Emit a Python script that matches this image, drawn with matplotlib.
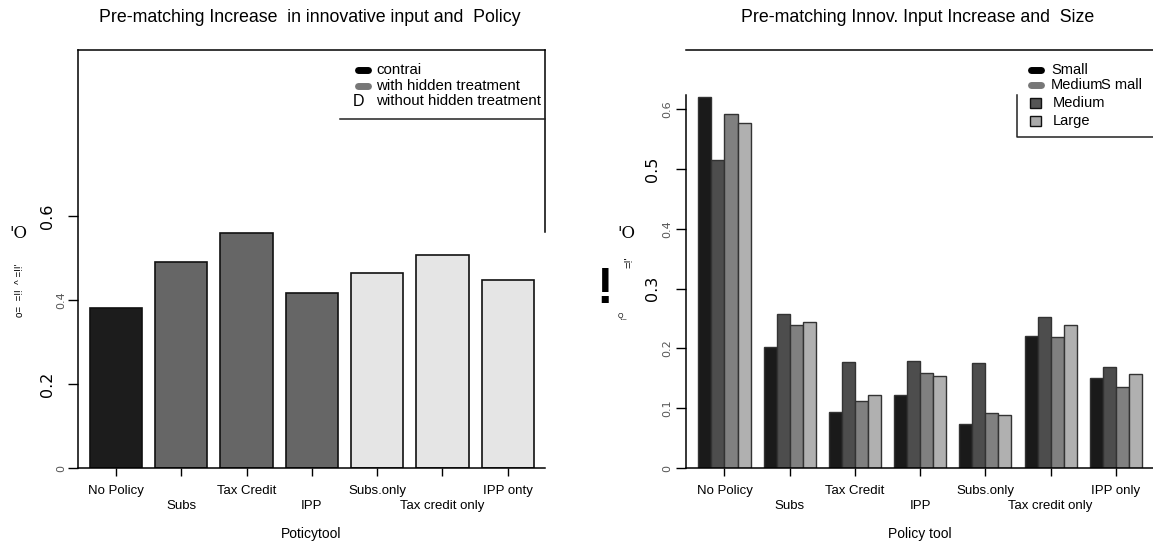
import matplotlib.pyplot as plt
import numpy as np
from matplotlib.lines import Line2D
from matplotlib.patches import Rectangle

# ----------------------------- Data ------------------------------------------

policy_left = ["No Policy", "Subs", "Tax Credit", "IPP", "Subs.only", "Tax credit only", "IPP onty"]
policy_right = ["No Policy", "Subs", "Tax Credit", "IPP", "Subs.only", "Tax credit only", "IPP only"]

# left panel: one bar per policy, shaded by treatment group
increase_by_policy = [0.381, 0.490, 0.560, 0.417, 0.464, 0.507, 0.448]
policy_group = ["control", "hidden", "hidden", "hidden", "plain", "plain", "plain"]
group_colors = {"control": "#1c1c1c", "hidden": "#666666", "plain": "#e5e5e5"}

# right panel: one bar per firm size inside each policy
small = [0.620, 0.202, 0.094, 0.122, 0.074, 0.221, 0.150]
medium_small = [0.515, 0.258, 0.177, 0.179, 0.175, 0.252, 0.169]
medium = [0.592, 0.239, 0.112, 0.159, 0.092, 0.219, 0.135]
large = [0.577, 0.244, 0.122, 0.154, 0.088, 0.239, 0.157]
size_colors = ["#1a1a1a", "#4d4d4d", "#808080", "#b0b0b0"]

left_yticks = [0, 0.2, 0.4, 0.6]
left_yticklabels = ["0", "0.2", "0.4", "0.6"]
left_ybold = [False, True, False, True]
right_yticks = [0, 0.1, 0.2, 0.3, 0.4, 0.5, 0.6]
right_yticklabels = ["0", "0.1", "0.2", "0.3", "0.4", "0.5", "0.6"]
right_ybold = [False, False, False, True, False, True, False]

# ----------------------------- Layout ----------------------------------------

W, H = 1153, 546
NARROW = ["Liberation Sans Narrow", "Liberation Sans", "DejaVu Sans"]
SANS = ["Liberation Sans", "DejaVu Sans"]


def fx(x):
    return x / W


def fy(y):
    return 1 - y / H


def style_axes(ax, labels, yticks, ylabels, ybold, big_pad, small_pad):
    x = np.arange(len(labels))
    ax.set_xlim(-0.59, 6.57)
    ax.set_xticks(x)
    ax.set_xticklabels(labels, fontfamily=NARROW, fontsize=9.5)
    ax.tick_params(axis="x", length=6, width=1, direction="out")
    for i, tick in enumerate(ax.xaxis.get_major_ticks()):
        tick.set_pad(6 if i % 2 == 0 else 17)
    ax.set_yticks(yticks)
    ax.set_yticklabels(ylabels)
    ax.tick_params(axis="y", length=7, width=1, direction="out")
    for tick, lab, bold in zip(ax.yaxis.get_major_ticks(), ax.get_yticklabels(), ybold):
        lab.set_rotation(90)
        lab.set_va("center")
        if bold:
            lab.set_fontsize(11.5)
            lab.set_color("black")
            tick.set_pad(big_pad)
        else:
            lab.set_fontsize(8)
            lab.set_color("#555555")
            tick.set_pad(small_pad)
    for sp in ax.spines.values():
        sp.set_linewidth(1.1)


fig = plt.figure(figsize=(W / 100, H / 100), dpi=100)

# ----------------------------- Left panel ------------------------------------

ax1 = fig.add_axes([fx(77.5), fy(468), fx(545) - fx(77.5), fy(50) - fy(468)])
ax1.bar(np.arange(len(policy_left)), increase_by_policy, width=0.8,
        color=[group_colors[g] for g in policy_group], edgecolor="#111111", linewidth=1.2)
ax1.set_ylim(0, 0.995)
style_axes(ax1, policy_left, left_yticks, left_yticklabels, left_ybold, 9, 1)
ax1.spines["right"].set_bounds(0.562, 0.995)
ax1.set_xlabel("Poticytool", fontfamily=NARROW, fontsize=10)
ax1.xaxis.set_label_coords(0.5, -0.142)

# ----------------------------- Right panel -----------------------------------

ax2 = fig.add_axes([fx(686), fy(468), fx(1153) - fx(686), fy(50) - fy(468)])
x = np.arange(len(policy_right))
for k, (vals, col) in enumerate(zip([small, medium_small, medium, large], size_colors)):
    ax2.bar(x + (k - 1.5) * 0.2, vals, width=0.2, color=col, edgecolor="#333333", linewidth=1.0)
ax2.set_ylim(0, 0.699)
style_axes(ax2, policy_right, right_yticks, right_yticklabels, right_ybold, 12, 3)
ax2.spines["left"].set_bounds(0, 0.624)
ax2.spines["right"].set_visible(False)
ax2.set_xlabel("Policy tool", fontfamily=NARROW, fontsize=10)
ax2.xaxis.set_label_coords(0.5, -0.142)

# ----------------------------- Titles ----------------------------------------

fig.text(fx(310), fy(18), "Pre-matching Increase  in innovative input and  Policy",
         ha="center", va="center", fontsize=12.8, fontfamily=SANS)
fig.text(fx(918), fy(18), "Pre-matching Innov. Input Increase and  Size",
         ha="center", va="center", fontsize=12.8, fontfamily=SANS)

# ----------------------------- Legends ---------------------------------------

# left legend
fig.add_artist(Line2D([fx(340), fx(545)], [fy(119), fy(119)], color="#222222", lw=1.1))
for yy, col in [(70, "#000000"), (86, "#777777")]:
    fig.add_artist(Line2D([fx(358), fx(368)], [fy(yy), fy(yy)], color=col, lw=5,
                          solid_capstyle="round"))
fig.text(fx(353), fy(101), "D", ha="left", va="center", fontsize=11.5, fontfamily=SANS)
for yy, txt in [(70, "contrai"), (86, "with hidden treatment"), (101, "without hidden treatment")]:
    fig.text(fx(376), fy(yy), txt, ha="left", va="center", fontsize=10.8, fontfamily=SANS)

# right legend
fig.add_artist(Line2D([fx(1017), fx(1017), fx(1153)], [fy(95), fy(137), fy(137)],
                      color="#222222", lw=1.1))
for yy, col in [(70, "#000000"), (85, "#777777")]:
    fig.add_artist(Line2D([fx(1031), fx(1041)], [fy(yy), fy(yy)], color=col, lw=5,
                          solid_capstyle="round"))
for yy, col in [(103, "#555555"), (121, "#aaaaaa")]:
    fig.add_artist(Rectangle((fx(1030), fy(yy + 5)), fx(11), fy(0) - fy(10),
                             facecolor=col, edgecolor="#111111", lw=1.0,
                             transform=fig.transFigure))
fig.text(fx(1051), fy(70), "Small", ha="left", va="center", fontsize=10.5, fontfamily=SANS)
fig.text(fx(1051), fy(85), "Medium", ha="left", va="center", fontsize=10.5, fontfamily=SANS)
fig.text(fx(1101), fy(85), "S mall", ha="left", va="center", fontsize=10.5, fontfamily=SANS)
fig.text(fx(1053), fy(103), "Medium", ha="left", va="center", fontsize=10.5, fontfamily=SANS)
fig.text(fx(1053), fy(121), "Large", ha="left", va="center", fontsize=10.5, fontfamily=SANS)

# ----------------------------- Y label remnants ------------------------------

fig.text(fx(18), fy(234), "'O", ha="center", va="center", fontsize=12, fontfamily="DejaVu Serif")
fig.text(fx(20), fy(290), "o=  =!!  ^ =!!'", ha="center", va="center", rotation=90,
         fontsize=7, fontfamily=SANS)
fig.text(fx(626), fy(234), "'O", ha="center", va="center", fontsize=12, fontfamily="DejaVu Serif")
fig.text(fx(605), fy(290), "!", ha="center", va="center", fontsize=36, fontweight="bold",
         fontfamily=SANS)
fig.text(fx(629), fy(262), "=!'", ha="center", va="center", rotation=90, fontsize=8,
         fontfamily=SANS)
fig.text(fx(622), fy(316), "Q_", ha="center", va="center", fontsize=5, fontfamily=SANS)

fig.savefig("out.png", dpi=100)
